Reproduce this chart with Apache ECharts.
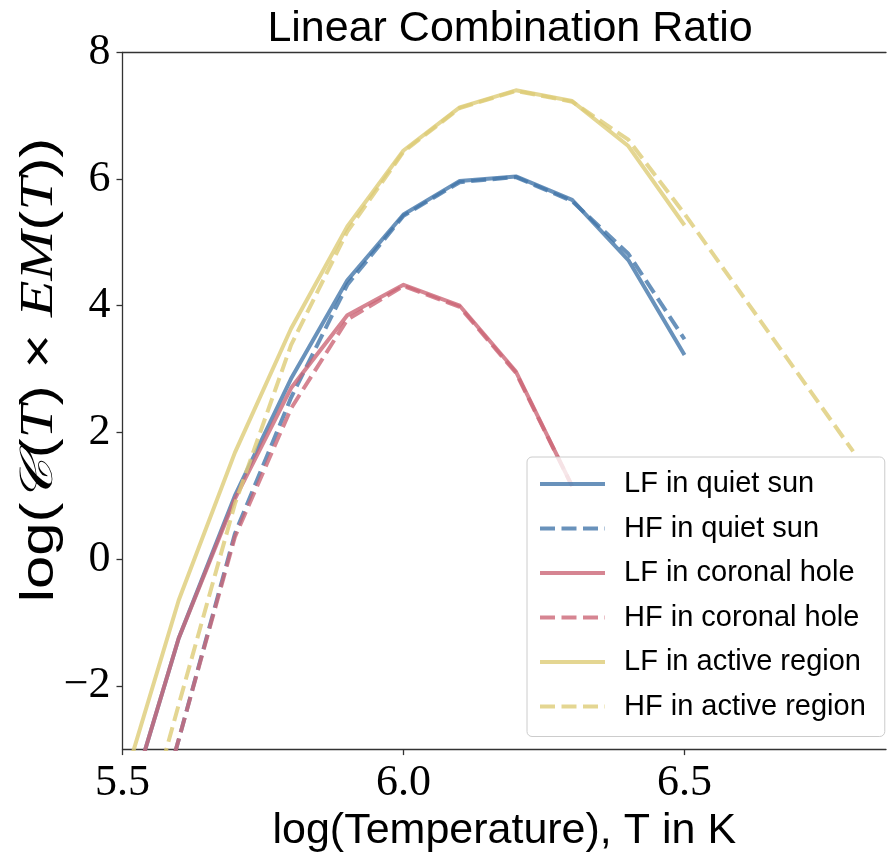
<!DOCTYPE html>
<html>
<head>
<meta charset="utf-8">
<script src="https://cdn.jsdelivr.net/npm/echarts@6/dist/echarts.min.js"></script>
<style>html,body{margin:0;padding:0;background:#fff}#c{width:887px;height:858px}</style>
</head>
<body>
<div id="c"></div>
<script>
// log(Temperature) sample points
const logT = [5.5, 5.6, 5.7, 5.8, 5.9, 6.0, 6.1, 6.2, 6.3, 6.4, 6.5, 6.6, 6.7, 6.8];
// series values (null = no data)
const lfQuietSun   = [-4.2, -1.25, 1.00, 2.85, 4.40, 5.44, 5.97, 6.04, 5.67, 4.72, 3.22, null, null, null];
const hfQuietSun   = [-6.0, -2.85, 0.40, 2.55, 4.33, 5.42, 5.95, 6.03, 5.65, 4.82, 3.47, null, null, null];
const lfCoronalHole = [-4.2, -1.25, 0.95, 2.70, 3.85, 4.33, 4.00, 2.96, 1.15, null, null, null, null, null];
const hfCoronalHole = [-6.0, -2.85, 0.35, 2.38, 3.78, 4.31, 3.98, 2.94, 1.15, null, null, null, null, null];
const lfActiveRegion = [-3.6, -0.65, 1.68, 3.64, 5.25, 6.45, 7.13, 7.40, 7.23, 6.52, 5.27, null, null, null];
const hfActiveRegion = [-5.5, -2.30, 0.87, 3.38, 5.17, 6.43, 7.12, 7.39, 7.22, 6.62, 5.45, 4.20, 2.95, 1.70];
const seriesNames = ['LF in quiet sun', 'HF in quiet sun', 'LF in coronal hole', 'HF in coronal hole', 'LF in active region', 'HF in active region'];
const xTicks = [5.5, 6.0, 6.5];
const yTicks = [-2, 0, 2, 4, 6, 8];

const BLUE = 'rgba(68,119,170,0.8)';
const RED = 'rgba(204,102,119,0.8)';
const SAND = 'rgba(221,204,119,0.8)';
const SANS = "'Liberation Sans', Arial, sans-serif";
const SERIF = "'Liberation Serif', 'Times New Roman', serif";

function pairs(vals) {
  const out = [];
  vals.forEach((v, i) => { if (v !== null) out.push([logT[i], v]); });
  return out;
}
function mk(name, vals, color, dashed) {
  return {
    name: name, type: 'line', data: pairs(vals), symbol: 'none', showSymbol: false,
    clip: true, animation: false,
    lineStyle: { color: color, width: 4, type: dashed ? [15, 6.5] : 'solid', cap: 'butt', join: 'round' },
    itemStyle: { color: 'rgba(0,0,0,0)', borderWidth: 0 }
  };
}

const chart = echarts.init(document.getElementById('c'), null, { renderer: 'canvas' });
chart.setOption({
  animation: false,
  backgroundColor: '#fff',
  title: {
    text: 'Linear Combination Ratio', left: 505, top: 3, textAlign: 'center',
    textStyle: { fontFamily: SANS, fontSize: 43, fontWeight: 'normal', color: '#000' }
  },
  grid: { left: 122.5, right: 1, top: 52.3, bottom: 105.3, containLabel: false },
  xAxis: [{
    type: 'value', min: 5.5, max: 6.8585, interval: 0.5,
    axisLine: { show: true, onZero: false, lineStyle: { color: '#333', width: 1.3 } },
    axisTick: { show: true, length: 6, inside: false, customValues: xTicks, lineStyle: { color: '#333', width: 1.3 } },
    axisLabel: { customValues: xTicks, margin: 12, fontFamily: SERIF, fontSize: 44, color: '#000',
      formatter: v => v.toFixed(1) },
    splitLine: { show: false },
    name: 'log(Temperature), T in K', nameLocation: 'middle', nameGap: 58,
    nameTextStyle: { fontFamily: SANS, fontSize: 43, color: '#000', align: 'center' }
  }, {
    type: 'value', position: 'top', min: 5.5, max: 6.8585,
    axisLine: { show: true, onZero: false, lineStyle: { color: '#333', width: 1.3 } },
    axisTick: { show: false }, axisLabel: { show: false }, splitLine: { show: false }
  }],
  yAxis: {
    type: 'value', min: -3, max: 8, interval: 1,
    axisLine: { show: true, onZero: false, lineStyle: { color: '#333', width: 1.3 } },
    axisTick: { show: true, length: 6, customValues: yTicks, lineStyle: { color: '#333', width: 1.3 } },
    axisLabel: { customValues: yTicks, margin: 12, fontFamily: SERIF, fontSize: 44, color: '#000',
      formatter: v => (v < 0 ? '\u2212' + Math.abs(v) : String(v)) },
    splitLine: { show: false }
  },
  legend: {
    orient: 'vertical', left: 527, top: 457,
    padding: [12, 19, 15, 11],
    itemWidth: 65, itemHeight: 14, itemGap: 14.5,
    data: seriesNames,
    lineStyle: { width: 4 },
    itemStyle: { color: 'rgba(0,0,0,0)', borderWidth: 0, opacity: 0 },
    textStyle: { fontFamily: SANS, fontSize: 29, color: '#000', lineHeight: 30, padding: [0, 0, 0, 14] },
    backgroundColor: 'rgba(255,255,255,0.8)', borderColor: '#cccccc', borderWidth: 1, borderRadius: 5
  },
  graphic: [{
    type: 'text', x: 40, y: 370, rotation: Math.PI / 2, scaleX: 1.3, scaleY: 1,
    style: {
      text: '{a|log(}{s|\uD835\uDC9E}{a|(}{i|T}{a|) \u00D7 }{i|EM}{a|(}{i|T}{a|))}',
      align: 'center', verticalAlign: 'middle',
      rich: {
        a: { fontFamily: SANS, fontSize: 46, fill: '#000' },
        s: { fontFamily: SERIF, fontSize: 46, fontStyle: 'italic', fill: '#000' },
        i: { fontFamily: SERIF, fontSize: 46, fontStyle: 'italic', fill: '#000' }
      }
    }
  }],
  series: [
    mk(seriesNames[0], lfQuietSun, BLUE, false),
    mk(seriesNames[1], hfQuietSun, BLUE, true),
    mk(seriesNames[2], lfCoronalHole, RED, false),
    mk(seriesNames[3], hfCoronalHole, RED, true),
    mk(seriesNames[4], lfActiveRegion, SAND, false),
    mk(seriesNames[5], hfActiveRegion, SAND, true)
  ]
});
</script>
</body>
</html>
